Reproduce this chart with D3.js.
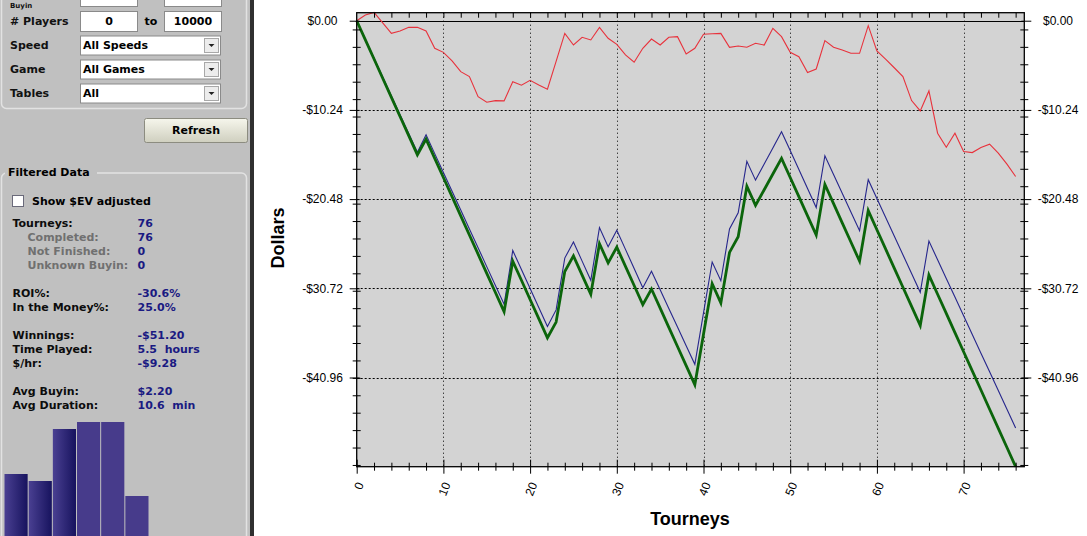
<!DOCTYPE html>
<html><head><meta charset="utf-8">
<script src="https://cdn.jsdelivr.net/npm/d3@7"></script>
<style>
html,body{margin:0;padding:0;background:#fff;overflow:hidden}
svg{display:block}
</style></head><body>
<svg id="c" width="1087" height="536"></svg>
<script>
// ---------------- DATA ----------------
const tourneys = d3.range(0, 77);               // tourney index 0..76
const winnings = [0,-2.2,-4.4,-6.6,-8.8,-11.0,-13.2,-15.4,-13.6,-15.8,-18.0,-20.2,-22.4,-24.6,-26.8,-29.0,-31.2,-33.4,-27.6,-29.8,
  -32.0,-34.2,-36.4,-34.6,-28.8,-27.0,-29.2,-31.4,-25.6,-27.8,-26.0,-28.2,-30.4,-32.6,-30.8,-33.0,-35.2,-37.4,-39.6,-41.8,
  -36.0,-30.2,-32.4,-26.6,-24.8,-19.0,-21.2,-19.4,-17.6,-15.8,-18.0,-20.2,-22.4,-24.6,-18.8,-21.0,-23.2,-25.4,-27.6,-21.8,
  -24.0,-26.2,-28.4,-30.6,-32.8,-35.0,-29.2,-31.4,-33.6,-35.8,-38.0,-40.2,-42.4,-44.6,-46.8,-49.0,-51.2];
const winningsBlue = [0,-2.16,-4.32,-6.47,-8.63,-10.79,-12.94,-15.1,-13.1,-15.26,-17.42,-19.58,-21.74,-23.9,-26.06,-28.23,-30.39,-32.55,-26.38,-28.56,
  -30.74,-32.92,-35.1,-33.2,-27.25,-25.4,-27.6,-29.8,-23.75,-25.95,-24.05,-26.25,-28.45,-30.65,-28.75,-30.89,-33.03,-35.17,-37.31,-39.45,
  -33.55,-27.7,-29.85,-23.9,-22.05,-16.15,-18.3,-16.45,-14.6,-12.75,-14.9,-17.08,-19.27,-21.45,-15.5,-17.65,-19.8,-21.95,-24.1,-18.25,
  -20.4,-22.56,-24.71,-26.87,-29.02,-31.18,-25.3,-27.44,-29.59,-31.73,-33.88,-36.02,-38.17,-40.31,-42.46,-44.6,-46.75];
const winningsRed = [0,0.65,0.96,-0.24,-1.45,-1.18,-0.76,-0.76,-1.18,-3.17,-3.63,-4.62,-5.85,-6.42,-8.72,-9.36,-9.17,-9.2,-7.0,-7.41,
  -6.84,-7.37,-7.87,-4.66,-1.45,-2.79,-1.9,-2.21,-0.76,-2.02,-2.71,-3.93,-4.77,-3.17,-2.1,-2.79,-1.9,-1.83,-3.82,-3.17,
  -1.56,-1.5,-1.45,-3.05,-2.9,-3.05,-2.59,-2.79,-0.87,-1.83,-3.63,-4.13,-5.96,-5.54,-2.29,-3.05,-3.36,-3.74,-3.74,-0.57,
  -3.47,-4.4,-5.4,-6.42,-9.17,-10.36,-8.06,-12.91,-14.52,-12.91,-15.02,-15.14,-14.56,-14.17,-15.2,-16.47,-17.89];
const yMajorTicks = [0, -10.24, -20.48, -30.72, -40.96];
const yTickLabels = ["$0.00", "-$10.24", "-$20.48", "-$30.72", "-$40.96"];
const yMinorTicks = d3.range(-1, -52, -2);
const xMajorTicks = [0, 10, 20, 30, 40, 50, 60, 70];
const xMinorTicks = d3.range(2, 77, 2).filter(v => v % 10 !== 0);
const histValues = [62, 55, 107, 114, 114, 40];
const histGradient = [true, true, true, false, false, false];

const filterLabels = ["# Players", "Speed", "Game", "Tables"];
const selectValues = ["All Speeds", "All Games", "All"];
const playersRange = ["0", "10000"];
const statRows = [
  ["Tourneys:", "76", "main"], ["Completed:", "76", "sub"], ["Not Finished:", "0", "sub"], ["Unknown Buyin:", "0", "sub"], null,
  ["ROI%:", "-30.6%", "main"], ["In the Money%:", "25.0%", "main"], null,
  ["Winnings:", "-$51.20", "main"], ["Time Played:", "5.5  hours", "main"], ["$/hr:", "-$9.28", "main"], null,
  ["Avg Buyin:", "$2.20", "main"], ["Avg Duration:", "10.6  min", "main"]
];

// ---------------- DRAW ----------------
const svg = d3.select("#c");
const UI = "'DejaVu Sans', Verdana, sans-serif";
const AR = "'Liberation Sans', Arial, sans-serif";
const defs = svg.append("defs");
const g1 = defs.append("linearGradient").attr("id", "hb").attr("x1", 0).attr("x2", 1).attr("y1", 0).attr("y2", 0);
g1.append("stop").attr("offset", "0%").attr("stop-color", "#4a4092");
g1.append("stop").attr("offset", "100%").attr("stop-color", "#17135e");
const g2 = defs.append("linearGradient").attr("id", "btn").attr("x1", 0).attr("x2", 0).attr("y1", 0).attr("y2", 1);
g2.append("stop").attr("offset", "0%").attr("stop-color", "#f6f6ec");
g2.append("stop").attr("offset", "100%").attr("stop-color", "#cfcfbf");

// left panel
const panel = svg.append("g");
panel.append("rect").attr("x", 0).attr("y", 0).attr("width", 250).attr("height", 536).attr("fill", "#c0c0c0");
panel.append("rect").attr("x", 250).attr("y", 0).attr("width", 4).attr("height", 536).attr("fill", "#303030");
// group boxes
panel.append("rect").attr("x", 1.5).attr("y", -20).attr("width", 245).attr("height", 128.5).attr("rx", 5)
  .attr("fill", "none").attr("stroke", "#e2e2e2").attr("stroke-width", 1.5);
panel.append("rect").attr("x", 1.5).attr("y", 173).attr("width", 245).attr("height", 400).attr("rx", 5)
  .attr("fill", "none").attr("stroke", "#e2e2e2").attr("stroke-width", 1.5);
panel.append("rect").attr("x", 5).attr("y", 166).attr("width", 92).attr("height", 14).attr("fill", "#c0c0c0");
panel.append("text").attr("x", 8).attr("y", 172).attr("dy", "0.35em").attr("font-family", UI).attr("font-weight", "bold")
  .attr("font-size", 11).text("Filtered Data");

// top row, scrolled mostly out of view as in the reference
[[80, -14], [164, -14]].forEach(([bx, by]) => {
  panel.append("rect").attr("x", bx + 0.5).attr("y", by + 0.5).attr("width", 57).attr("height", 20).attr("fill", "#fff").attr("stroke", "#8a8a8a");
});
panel.append("text").attr("x", 10).attr("y", 7.5).attr("font-family", UI).attr("font-weight", "bold")
  .attr("font-size", 7).attr("fill", "#111").text("Buyin");
const filterY = [21, 45.5, 69.5, 93.5];
filterLabels.forEach((t, i) => {
  panel.append("text").attr("x", 10).attr("y", filterY[i]).attr("dy", "0.35em").attr("font-family", UI)
    .attr("font-weight", "bold").attr("font-size", 11).attr("fill", "#111").text(t);
});
// players inputs
[[80, playersRange[0]], [164, playersRange[1]]].forEach(([bx, t]) => {
  panel.append("rect").attr("x", bx + 0.5).attr("y", 11.5).attr("width", 57).attr("height", 20).attr("fill", "#fff").attr("stroke", "#8a8a8a");
  panel.append("text").attr("x", bx + 29).attr("y", 21.5).attr("dy", "0.35em").attr("text-anchor", "middle")
    .attr("font-family", UI).attr("font-weight", "bold").attr("font-size", 11).text(t);
});
panel.append("text").attr("x", 151).attr("y", 21.5).attr("dy", "0.35em").attr("text-anchor", "middle")
  .attr("font-family", UI).attr("font-weight", "bold").attr("font-size", 11).text("to");
// selects
selectValues.forEach((t, i) => {
  const cy = filterY[i + 1];
  panel.append("rect").attr("x", 80.5).attr("y", cy - 9.5).attr("width", 140).attr("height", 19).attr("fill", "#fff").attr("stroke", "#8a8a8a");
  panel.append("text").attr("x", 83).attr("y", cy).attr("dy", "0.35em").attr("font-family", UI)
    .attr("font-weight", "bold").attr("font-size", 11).text(t);
  panel.append("rect").attr("x", 204.5).attr("y", cy - 7).attr("width", 14).attr("height", 14).attr("fill", "#ececec").attr("stroke", "#a8a8a8");
  panel.append("path").attr("d", `M${208.5},${cy - 1.5} L${214.5},${cy - 1.5} L${211.5},${cy + 1.5} Z`).attr("fill", "#222");
});
// refresh button
panel.append("rect").attr("x", 144.5).attr("y", 118.5).attr("width", 103).attr("height", 24).attr("rx", 2)
  .attr("fill", "url(#btn)").attr("stroke", "#8c8c80");
panel.append("text").attr("x", 196).attr("y", 130.5).attr("dy", "0.35em").attr("text-anchor", "middle")
  .attr("font-family", UI).attr("font-weight", "bold").attr("font-size", 11).text("Refresh");
// checkbox
panel.append("rect").attr("x", 12.5).attr("y", 195.5).attr("width", 11).attr("height", 11).attr("fill", "#fff").attr("stroke", "#6a6a7a");
panel.append("text").attr("x", 32).attr("y", 201).attr("dy", "0.35em").attr("font-family", UI)
  .attr("font-weight", "bold").attr("font-size", 11).text("Show $EV adjusted");
// stats
let sy = 222.7;
statRows.forEach(r => {
  if (!r) { sy += 13.5; return; }
  const sub = r[2] === "sub";
  panel.append("text").attr("x", sub ? 27.5 : 12.5).attr("y", sy).attr("dy", "0.35em").attr("font-family", UI)
    .attr("font-weight", "bold").attr("font-size", 11).attr("fill", sub ? "#707070" : "#0c0c0c").style("white-space", "pre").text(r[0]);
  panel.append("text").attr("x", 137.5).attr("y", sy).attr("dy", "0.35em").attr("font-family", UI)
    .attr("font-weight", "bold").attr("font-size", 11).attr("fill", "#1a1a82").style("white-space", "pre").text(r[1]);
  sy += 14.2;
});
// histogram
const hx = d3.scaleBand().domain(d3.range(histValues.length)).range([4.5, 148.5]).paddingInner(0.042);
const hy = d3.scaleLinear().domain([0, d3.max(histValues)]).range([536, 422]);
panel.selectAll("rect.hist").data(histValues).join("rect").attr("class", "hist")
  .attr("x", (d, i) => hx(i)).attr("width", hx.bandwidth())
  .attr("y", d => hy(d)).attr("height", d => 536 - hy(d))
  .attr("fill", (d, i) => histGradient[i] ? "url(#hb)" : "#473b8b");

// ---------------- CHART ----------------
const x = d3.scaleLinear().domain([0, 77]).range([356.7, 1024.3]);
const y = d3.scaleLinear().domain([-51.2, 0.92]).range([466.7, 12.7]);
const [X0, X1] = x.range();
const [Y1, Y0] = y.range();

const chart = svg.append("g");
chart.append("rect").attr("x", X0).attr("y", Y0).attr("width", X1 - X0).attr("height", Y1 - Y0).attr("fill", "#d3d3d3");
// grid
chart.selectAll("line.vg").data(xMajorTicks.filter(v => v > 0)).join("line").attr("class", "vg")
  .attr("x1", d => Math.round(x(d)) + 0.5).attr("x2", d => Math.round(x(d)) + 0.5).attr("y1", Y0).attr("y2", Y1)
  .attr("stroke", "#000").attr("stroke-width", 1).attr("stroke-dasharray", "1,3");
chart.selectAll("line.hg").data(yMajorTicks.filter(v => v < 0)).join("line").attr("class", "hg")
  .attr("x1", X0).attr("x2", X1).attr("y1", d => Math.round(y(d)) + 0.5).attr("y2", d => Math.round(y(d)) + 0.5)
  .attr("stroke", "#000").attr("stroke-width", 1).attr("stroke-dasharray", "2,2");
chart.append("line").attr("x1", X0).attr("x2", X1).attr("y1", Math.round(y(0)) + 0.5).attr("y2", Math.round(y(0)) + 0.5)
  .attr("stroke", "#000").attr("stroke-width", 1.2);

// lines
const line = d3.line().x((d, i) => x(tourneys[i])).y(d => y(d));
chart.append("path").datum(winningsRed).attr("d", line).attr("fill", "none").attr("stroke", "#e8323c").attr("stroke-width", 1.1);
chart.append("path").datum(winningsBlue).attr("d", line).attr("fill", "none").attr("stroke", "#26268c").attr("stroke-width", 1.1);
chart.append("path").datum(winnings).attr("d", line).attr("fill", "none").attr("stroke", "#0b650b").attr("stroke-width", 2.8)
  .attr("stroke-linejoin", "miter");

// frame
chart.append("rect").attr("x", X0).attr("y", Y0).attr("width", X1 - X0).attr("height", Y1 - Y0)
  .attr("fill", "none").attr("stroke", "#000").attr("stroke-width", 1.3);

function styleAxis(g) {
  g.select(".domain").remove();
  g.selectAll(".tick line").attr("stroke", "#000").attr("stroke-width", 1);
  g.selectAll("text").attr("font-family", AR).attr("font-size", 12).attr("fill", "#000");
}
// left axis
const fmt = d => yTickLabels[yMajorTicks.indexOf(d)];
const la = chart.append("g").attr("transform", `translate(${X0},0)`)
  .call(d3.axisLeft(y).tickValues(yMajorTicks).tickSize(7).tickFormat(fmt)).call(styleAxis);
la.selectAll(".tick line").attr("x1", 3);
la.selectAll("text").attr("x", -34.2).attr("text-anchor", "middle");
chart.append("g").attr("transform", `translate(${X0},0)`)
  .call(d3.axisLeft(y).tickValues(yMinorTicks).tickSize(4).tickFormat("")).call(styleAxis)
  .selectAll(".tick line").attr("x1", 4);
// right axis
const ra = chart.append("g").attr("transform", `translate(${X1},0)`)
  .call(d3.axisRight(y).tickValues(yMajorTicks).tickSize(7).tickFormat(fmt)).call(styleAxis);
ra.selectAll(".tick line").attr("x1", -3);
ra.selectAll("text").attr("x", 33.7).attr("text-anchor", "middle");
chart.append("g").attr("transform", `translate(${X1},0)`)
  .call(d3.axisRight(y).tickValues(yMinorTicks).tickSize(4).tickFormat("")).call(styleAxis)
  .selectAll(".tick line").attr("x1", -4);
// bottom axis
const ba = chart.append("g").attr("transform", `translate(0,${Y1})`)
  .call(d3.axisBottom(x).tickValues(xMajorTicks).tickSize(7).tickFormat(d3.format("d"))).call(styleAxis);
ba.selectAll(".tick line").attr("y1", -7);
ba.selectAll("text").attr("y", null).attr("dy", "0.35em").attr("text-anchor", "end")
  .attr("transform", "translate(3,16) rotate(-68)");
chart.append("g").attr("transform", `translate(0,${Y1})`)
  .call(d3.axisBottom(x).tickValues(xMinorTicks).tickSize(4).tickFormat("")).call(styleAxis)
  .selectAll(".tick line").attr("y1", -4);
// top axis (inward ticks)
chart.append("g").attr("transform", `translate(0,${Y0})`)
  .call(d3.axisTop(x).tickValues(xMinorTicks.concat(xMajorTicks.filter(v => v > 0))).tickSize(-5).tickFormat("")).call(styleAxis);

// titles
svg.append("text").attr("transform", "translate(278,238) rotate(-90)").attr("text-anchor", "middle").attr("dy", "0.35em")
  .attr("font-family", AR).attr("font-weight", "bold").attr("font-size", 18).text("Dollars");
svg.append("text").attr("x", 690).attr("y", 519).attr("text-anchor", "middle").attr("dy", "0.35em")
  .attr("font-family", AR).attr("font-weight", "bold").attr("font-size", 18).text("Tourneys");
</script>
</body></html>
